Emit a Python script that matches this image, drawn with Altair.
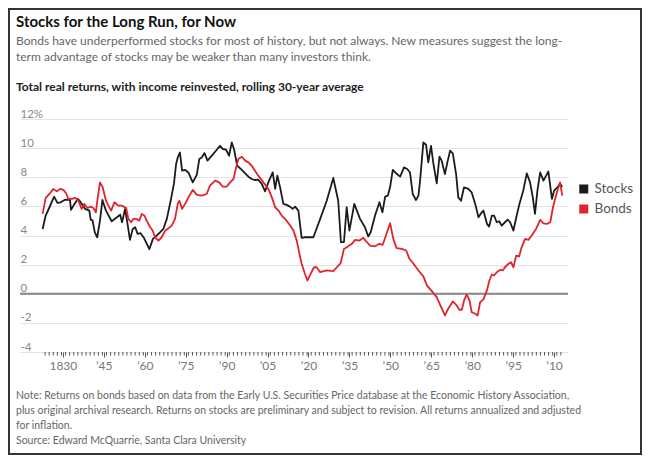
import altair as alt
import pandas as pd

# ---- data ----
stock_years = [1822.6, 1823.7, 1825.1, 1826.8, 1828.0, 1829.2, 1830.8, 1832.6, 1833.0, 1834.1,
               1835.5, 1836.3, 1838.1, 1839.7, 1840.2, 1840.9, 1841.7, 1842.6, 1843.6, 1844.5,
               1845.8, 1847.9, 1849.8, 1851.0, 1851.7, 1852.8, 1853.8, 1854.6, 1855.6, 1856.5,
               1857.4, 1858.5, 1859.8, 1861.7, 1863.0, 1864.4, 1865.6, 1866.8, 1868.1, 1869.5,
               1870.7, 1871.5, 1872.1, 1872.9, 1873.7, 1874.8, 1876.0, 1877.6, 1879.1, 1880.0,
               1880.9, 1881.9, 1883.0, 1884.6, 1886.1, 1887.6, 1888.6, 1889.8, 1890.9, 1891.9,
               1892.7, 1893.9, 1895.2, 1896.8, 1898.0, 1899.2, 1900.4, 1901.6, 1902.9, 1904.1,
               1905.3, 1906.9, 1907.8, 1908.6, 1909.6, 1910.8, 1912.0, 1913.2, 1914.2, 1915.1,
               1916.3, 1917.5, 1918.7, 1920.0, 1921.8, 1924.3, 1926.7, 1929.1, 1930.9, 1931.9,
               1933.0, 1934.0, 1935.0, 1936.8, 1938.9, 1940.7, 1941.9, 1942.8, 1944.4, 1946.0,
               1947.1, 1948.1, 1949.1, 1949.9, 1950.9, 1952.1, 1953.6, 1955.0, 1956.2, 1957.2,
               1958.2, 1959.4, 1960.3, 1960.9, 1962.1, 1963.1, 1963.9, 1964.9, 1965.8, 1967.0,
               1968.0, 1968.8, 1970.0, 1970.9, 1971.9, 1972.9, 1974.1, 1974.9, 1975.9, 1977.0,
               1978.6, 1979.8, 1981.1, 1982.3, 1983.5, 1984.1, 1985.4, 1986.2, 1987.2, 1988.0,
               1989.0, 1989.9, 1990.8, 1992.0, 1993.0, 1993.9, 1995.1, 1996.3, 1997.3, 1998.7,
               2000.0, 2001.2, 2002.2, 2003.0, 2003.9, 2004.9, 2006.1, 2007.1, 2007.9, 2009.2,
               2010.0, 2011.2, 2012.2, 2013.0]
stock_vals = [4.45, 5.37, 5.94, 6.67, 6.24, 6.28, 6.46, 6.44, 5.76, 6.12,
              6.51, 6.35, 5.83, 5.71, 5.09, 5.02, 4.22, 3.88, 5.02, 6.44,
              5.71, 4.98, 5.25, 5.43, 4.91, 5.83, 4.68, 3.70, 4.45, 4.57,
              4.11, 4.16, 3.81, 3.06, 3.77, 4.00, 4.22, 4.45, 5.14, 6.39,
              7.54, 8.91, 9.36, 9.70, 8.45, 8.50, 8.33, 7.65, 8.18, 9.25,
              9.36, 9.66, 9.14, 9.48, 9.82, 10.16, 9.94, 9.89, 9.48, 10.39,
              9.94, 8.79, 8.57, 8.27, 8.04, 7.88, 7.81, 7.83, 7.54, 7.03,
              7.65, 8.33, 7.20, 8.11, 7.31, 6.17, 6.10, 5.98, 5.83, 5.98,
              5.71, 3.84, 3.88, 3.88, 3.88, 5.14, 6.39, 7.95, 6.39, 3.54,
              3.54, 5.94, 4.34, 6.17, 5.14, 4.57, 3.93, 4.22, 5.37, 6.28,
              5.59, 6.67, 6.74, 7.31, 8.50, 8.27, 8.04, 8.68, 8.57, 8.33,
              6.85, 6.44, 6.74, 7.77, 10.39, 10.23, 9.02, 10.16, 8.91, 7.58,
              9.41, 9.14, 8.22, 9.02, 9.82, 9.64, 8.22, 6.62, 6.39, 7.31,
              7.20, 6.96, 6.17, 5.25, 5.59, 5.71, 4.80, 4.61, 5.37, 5.37,
              4.91, 4.98, 4.68, 4.91, 5.09, 4.91, 4.34, 5.37, 6.17, 7.08,
              8.27, 7.65, 6.62, 5.48, 7.08, 8.33, 7.77, 8.11, 8.40, 6.51,
              7.08, 7.31, 7.54, 7.35]

bond_years = [1822.6, 1823.7, 1825.1, 1826.5, 1827.8, 1829.0, 1830.2, 1831.2, 1832.0, 1833.3,
              1834.5, 1835.7, 1836.9, 1837.8, 1839.0, 1840.2, 1841.2, 1842.1, 1842.8, 1843.6,
              1844.6, 1845.8, 1846.7, 1847.7, 1848.9, 1850.3, 1851.6, 1853.2, 1854.0, 1855.0,
              1855.8, 1857.1, 1858.0, 1858.9, 1859.9, 1860.7, 1862.0, 1862.9, 1863.8, 1865.0,
              1866.2, 1867.5, 1868.7, 1869.9, 1871.1, 1872.1, 1872.7, 1873.7, 1874.8, 1876.0,
              1877.6, 1879.1, 1880.9, 1882.7, 1883.9, 1885.8, 1887.3, 1888.6, 1890.0, 1891.3,
              1892.5, 1893.5, 1894.3, 1895.6, 1896.8, 1898.0, 1899.2, 1900.4, 1901.6, 1903.5,
              1905.3, 1906.6, 1907.8, 1909.0, 1910.2, 1911.8, 1913.3, 1914.5, 1915.7, 1916.7,
              1917.5, 1918.7, 1919.6, 1920.8, 1922.0, 1923.0, 1924.3, 1926.7, 1929.1, 1930.4,
              1931.8, 1933.0, 1934.6, 1935.9, 1937.1, 1938.7, 1940.1, 1941.4, 1942.6, 1944.4,
              1946.0, 1947.2, 1948.4, 1949.9, 1951.1, 1952.3, 1954.2, 1955.8, 1957.0, 1958.5,
              1960.3, 1962.1, 1963.4, 1965.2, 1967.0, 1968.5, 1970.0, 1971.2, 1972.9, 1974.3,
              1975.3, 1976.2, 1977.1, 1978.0, 1979.0, 1979.8, 1981.1, 1982.0, 1982.9, 1984.1,
              1985.4, 1986.3, 1987.2, 1988.0, 1989.0, 1990.2, 1991.2, 1992.0, 1993.3, 1994.2,
              1995.1, 1996.1, 1997.2, 1998.1, 1999.4, 2000.6, 2001.8, 2003.4, 2004.9, 2006.1,
              2007.4, 2008.6, 2009.6, 2010.7, 2011.5, 2012.2, 2013.0]
bond_vals = [5.48, 6.58, 6.85, 7.20, 7.03, 7.20, 7.13, 6.90, 6.51, 6.51,
             6.58, 6.39, 5.83, 6.17, 5.89, 5.98, 5.89, 5.59, 6.62, 7.65,
             7.31, 6.39, 6.05, 5.71, 6.28, 6.05, 6.05, 5.89, 5.14, 4.91,
             5.14, 5.14, 5.02, 5.48, 5.37, 5.02, 4.57, 4.34, 3.88, 3.65,
             3.88, 4.34, 4.50, 4.68, 5.14, 6.17, 6.39, 5.83, 6.17, 6.62,
             7.13, 6.79, 6.74, 6.85, 7.42, 7.77, 7.65, 7.35, 7.35, 7.65,
             7.88, 8.68, 9.25, 9.41, 9.14, 9.02, 8.79, 8.45, 8.11, 7.65,
             7.20, 6.62, 5.94, 5.71, 5.37, 5.07, 4.68, 4.34, 3.65, 2.74,
             2.06, 1.37, 0.91, 1.37, 1.82, 1.82, 1.48, 1.60, 1.55, 1.82,
             2.10, 3.08, 3.26, 3.43, 3.70, 3.65, 3.84, 3.54, 3.31, 3.26,
             3.43, 3.36, 4.00, 4.84, 3.77, 3.13, 3.08, 2.97, 2.40, 2.06,
             1.60, 1.19, 0.57, 0.18, -0.23, -0.87, -1.49, -1.03, -0.53, -0.80,
             -1.10, -1.10, -0.41, -0.05, -0.46, -1.26, -1.37, -1.49, -0.58, -0.39,
             0.23, 0.91, 1.32, 1.25, 1.48, 1.64, 1.60, 1.82, 2.06, 2.17,
             1.82, 2.62, 2.56, 3.19, 3.77, 3.70, 4.00, 4.45, 5.07, 4.84,
             4.80, 4.91, 5.94, 6.74, 7.26, 7.65, 6.74]

major_ticks = [1830, 1845, 1860, 1875, 1890, 1905, 1920, 1935, 1950, 1965, 1980, 1995, 2010]
minor_ticks = [1823.5 + 1.5 * i for i in range(127) if (1823.5 + 1.5 * i - 1830) % 15 != 0]
y_ticks = [-4, -2, 0, 2, 4, 6, 8, 10, 12]

title = "Stocks for the Long Run, for Now"
subtitle = ["Bonds have underperformed stocks for most of history, but not always. New measures suggest the long-",
            "term advantage of stocks may be weaker than many investors think."]
chart_label = "Total real returns, with income reinvested, rolling 30-year average"
notes = ["Note: Returns on bonds based on data from the Early U.S. Securities Price database at the Economic History Association,",
         "plus original archival research. Returns on stocks are preliminary and subject to revision. All returns annualized and adjusted",
         "for inflation.",
         "Source: Edward McQuarrie, Santa Clara University"]

FONT = "Lato"
W, H = 548, 233

df = pd.concat([
    pd.DataFrame({"year": stock_years, "value": stock_vals, "series": "Stocks"}),
    pd.DataFrame({"year": bond_years, "value": bond_vals, "series": "Bonds"}),
])

xscale = alt.Scale(domain=[1814.3, 2015.1], nice=False, zero=False)
yscale = alt.Scale(domain=[-4, 12], nice=False)

x_axis = alt.Axis(
    values=major_ticks, grid=False, domain=False, ticks=True, tickSize=5,
    tickColor="#555", tickWidth=1, labelPadding=3, labelFontSize=12,
    labelColor="#777", labelFont=FONT, title=None, labelOverlap=False, labelFlush=False,
    labelExpr="datum.value == 1830 ? '1830' : '\u2019' + substring(toString(datum.value), 2)")
y_axis = alt.Axis(
    values=y_ticks, grid=True, gridColor="#e3e3e3", gridWidth=1, domain=False,
    ticks=False, tickSize=0, labelAlign="left", labelPadding=0, labelBaseline="alphabetic",
    labelOffset=-2, labelFontSize=11.5, labelColor="#888", labelFont=FONT, title=None,
    labelOverlap=False, labelFlush=False,
    labelExpr="datum.value == 12 ? '12%' : toString(datum.value)")

lines = alt.Chart(df).mark_line(strokeWidth=1.8, strokeJoin="round").encode(
    x=alt.X("year:Q", scale=xscale, axis=x_axis),
    y=alt.Y("value:Q", scale=yscale, axis=y_axis),
    color=alt.Color("series:N", scale=alt.Scale(domain=["Stocks", "Bonds"], range=["#1c1c1c", "#e0242f"]),
                    legend=alt.Legend(title=None, orient="none", legendX=557, legendY=63,
                                      symbolType="square", symbolSize=16, symbolStrokeWidth=5,
                                      labelFont=FONT, labelFontSize=13.5, labelColor="#555",
                                      rowPadding=6, clipHeight=14, padding=0, labelOffset=4)),
    order=alt.Order("series:N"),
)

zero = alt.Chart(pd.DataFrame({"v": [0]})).mark_rule(color="#888", strokeWidth=1.8).encode(
    y=alt.Y("v:Q", scale=yscale, axis=y_axis))

minor = alt.Chart(pd.DataFrame({"t": minor_ticks})).mark_rule(color="#555", strokeWidth=1).encode(
    x=alt.X("t:Q", scale=xscale, axis=x_axis), y=alt.value(H), y2=alt.value(H + 3.5))


def tl(lines_, ys, size, color, weight="normal", x=-4):
    layers = []
    for s, yy in zip(lines_, ys):
        layers.append(alt.Chart(pd.DataFrame({"t": [s]})).mark_text(
            align="left", baseline="alphabetic", font=FONT, fontSize=size, color=color,
            fontWeight=weight).encode(text="t:N", x=alt.value(x), y=alt.value(yy)))
    return layers


texts = []
texts += tl([title], [26.5 - 119], 15, "#111", "bold")
texts += tl(subtitle, [44.5 - 119, 60.5 - 119], 12, "#666")
texts += tl([chart_label], [91 - 119], 12, "#222", "bold")
texts += tl(notes, [399 - 119, 414 - 119, 428.5 - 119, 443.5 - 119], 10.5, "#666")

frame = alt.Chart(pd.DataFrame({"a": [0]})).mark_rect(fillOpacity=0, stroke="#333", strokeWidth=2).encode(
    x=alt.value(-11), x2=alt.value(621), y=alt.value(-110), y2=alt.value(335))

chart = alt.layer(zero, lines, minor, frame, *texts).properties(
    width=W, height=H, background="white",
    padding={"left": 12, "top": 111, "right": 74, "bottom": 103},
    autosize=alt.AutoSizeParams(type="none"),
).configure_view(stroke="transparent", strokeWidth=0)

chart.save("out.html", embed_options={"renderer": "svg", "actions": False})
